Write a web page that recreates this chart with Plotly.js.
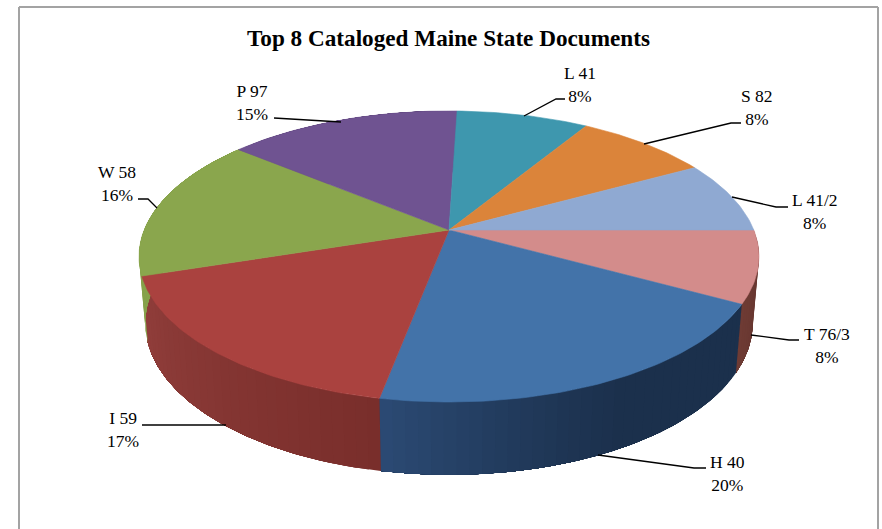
<!DOCTYPE html>
<html>
<head>
<meta charset="utf-8">
<script src="https://cdn.plot.ly/plotly-3.0.1.min.js"></script>
<style>html,body{margin:0;padding:0;background:#fff}#c{width:882px;height:529px}</style>
</head>
<body>
<div id="c"></div>
<script>
// Data, clockwise from the 3 o'clock position
const categories = ["T 76/3", "H 40", "I 59", "W 58", "P 97", "L 41", "S 82", "L 41/2"];
const shares = [8, 20, 17, 16, 14.5, 8.2, 8.3, 8];
const percentLabels = ["8%", "20%", "17%", "16%", "15%", "8%", "8%", "8%"];

// Styles
const topColors = ["#d38c8b", "#4373a9", "#aa423f", "#8aa64d", "#6f5391", "#3e97ae", "#db843a", "#8fa9d2"];
const wallLight = ["#6f3b34", "#2b4a74", "#913e3b", "#86a24b", "#5a4376", "#327a8d", "#b26b2f", "#7289ab"];
const wallDark  = ["#5f322c", "#1b304c", "#792e2b", "#86a24b", "#5a4376", "#327a8d", "#b26b2f", "#7289ab"];
const labelCenters = [[827,345],[727,473],[123,429],[117,183],[252,102],[580,84],[757,107],[815,211]];
const leaderPaths = [
  [[799,340],[789,340],[751,335]],
  [[706,468],[694,468],[598,455]],
  [[142,425],[226,425]],
  [[138,199],[148,199],[157,208]],
  [[274,118],[341,122]],
  [[565,99],[556,99],[524,116]],
  [[741,123],[731,123],[644,144]],
  [[788,207],[776,207],[732,197]]
];

// Perspective projection of the pie disc
const CX = 449, CY = 230, A = 304.8, B = 140.7, K = 0.182;
const WALL_S = 0.98, WALL_Y = 295.4, WALL_B = 146.8;
function project(deg, bottom) {
  const t = deg * Math.PI / 180, X = Math.cos(t), Y = Math.sin(t), w = 1 - K * Y;
  const u = X / w, v = Y / w;
  return bottom ? [CX + WALL_S * A * u, WALL_Y + WALL_B * v] : [CX + A * u, CY + B * v];
}
function mix(c1, c2, f) {
  const p = c => [1,3,5].map(i => parseInt(c.substr(i,2),16));
  const a = p(c1), b = p(c2);
  return "rgb(" + a.map((v,i) => Math.round(v + (b[i]-v)*f)).join(",") + ")";
}

const total = shares.reduce((s,v) => s+v, 0);
let angle = 0;
const slices = shares.map(v => { const s = {from: angle, to: angle + v/total*360}; angle = s.to; return s; });

const traces = [];
// Walls (only the front half can show). Bands overlap so no seams appear.
slices.forEach((s,i) => {
  if (s.from >= 225) return;
  const step = 2;
  const n = Math.max(1, Math.ceil((s.to - s.from)/step));
  for (let j = 0; j < n; j++) {
    const a0 = s.from + (s.to-s.from)*j/n;
    const f = (j+0.5)/n;
    const color = mix(wallDark[i], wallLight[i], i===1 ? Math.pow(Math.max(0,(f-0.45)/0.55),1.2) : f);
    const topPts = [], botPts = [];
    for (let d = a0; d < s.to; d += 0.5) { topPts.push(project(d,false)); botPts.push(project(d,true)); }
    topPts.push(project(s.to,false)); botPts.push(project(s.to,true));
    const pts = topPts.concat(botPts.reverse());
    traces.push({type:"scatter", mode:"lines", x:pts.map(p=>p[0]).concat(pts[0][0]), y:pts.map(p=>p[1]).concat(pts[0][1]),
      fill:"toself", fillcolor:color, line:{color:color, width:0}, hoverinfo:"skip", showlegend:false});
  }
});
// Top faces
slices.forEach((s,i) => {
  const pts = [[CX,CY]];
  for (let d = s.from; d < s.to; d += 1) pts.push(project(d,false));
  pts.push(project(s.to,false));
  traces.push({type:"scatter", mode:"lines", name:categories[i], x:pts.map(p=>p[0]).concat(CX), y:pts.map(p=>p[1]).concat(CY),
    fill:"toself", fillcolor:topColors[i], line:{color:topColors[i], width:0.6}, hoverinfo:"name", showlegend:false});
});
// Leader lines
leaderPaths.forEach(path => traces.push({type:"scatter", mode:"lines", x:path.map(p=>p[0]), y:path.map(p=>p[1]),
  line:{color:"#000", width:1.3}, hoverinfo:"skip", showlegend:false}));

const serif = "'Liberation Serif','Times New Roman',serif";
const annotations = categories.map((c,i) => ({
  x:labelCenters[i][0], y:labelCenters[i][1], xref:"x", yref:"y", showarrow:false,
  text:c + "<br>" + percentLabels[i], align:"center", font:{family:serif, size:17.5, color:"#000"}
}));

const layout = {
  width:882, height:529, margin:{l:0,r:0,t:0,b:0}, paper_bgcolor:"#fff", plot_bgcolor:"#fff",
  showlegend:false,
  title:{text:"<b>Top 8 Cataloged Maine State Documents</b>", x:448.5/882, xanchor:"center", y:1-38/529, yanchor:"middle",
    font:{family:serif, size:23.2, color:"#000"}},
  xaxis:{range:[0,882], visible:false, fixedrange:true},
  yaxis:{range:[529,0], visible:false, fixedrange:true},
  annotations:annotations,
  shapes:[
    {type:"line", xref:"x", yref:"y", x0:19, y0:7, x1:19, y1:529, line:{color:"#a3a3a3", width:2}},
    {type:"line", xref:"x", yref:"y", x0:19, y0:7, x1:878, y1:7, line:{color:"#a3a3a3", width:2}},
    {type:"line", xref:"x", yref:"y", x0:878, y0:7, x1:878, y1:529, line:{color:"#a3a3a3", width:2}}
  ]
};
Plotly.newPlot("c", traces, layout, {displayModeBar:false, staticPlot:true});
</script>
</body>
</html>
